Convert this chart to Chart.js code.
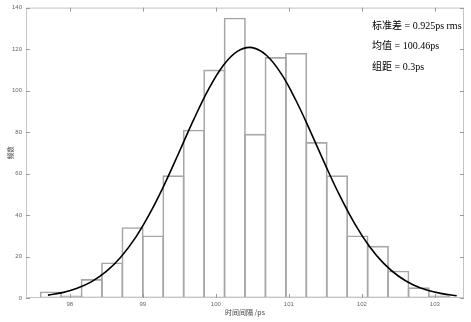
<!DOCTYPE html>
<html lang="zh-CN">
<head>
<meta charset="UTF-8">
<title>时间间隔直方图</title>
<script src="https://cdn.jsdelivr.net/npm/chart.js@4.4.1/dist/chart.umd.min.js"></script>
<style>
  html, body { margin: 0; padding: 0; background: #fff; }
  #wrap { width: 471px; height: 322px; }
</style>
</head>
<body>
<div id="wrap"><canvas id="chart" width="471" height="322"></canvas></div>
<script>
// bin centres (ps) and counts
var binWidth = 0.28;
var binCenters = [97.74, 98.02, 98.30, 98.58, 98.86, 99.14, 99.42, 99.70, 99.98, 100.26,
                  100.54, 100.82, 101.10, 101.38, 101.66, 101.94, 102.22, 102.50, 102.78, 103.06];
var counts = [3, 1, 9, 17, 34, 30, 59, 81, 110, 135, 79, 116, 118, 75, 59, 30, 25, 13, 5, 1];

// fitted curve, points
var curveX = [97.7, 97.9, 98.1, 98.3, 98.5, 98.7, 98.9, 99.1, 99.3, 99.5, 99.7, 99.9, 100.1, 100.3,
              100.5, 100.7, 100.9, 101.1, 101.3, 101.5, 101.7, 101.9, 102.1, 102.3, 102.5, 102.7,
              102.9, 103.1, 103.3];
var curveY = [1.4, 2.6, 4.7, 7.9, 12.8, 19.8, 29.1, 41.0, 55.0, 70.5, 86.2, 100.6, 112.0, 119.0,
              120.7, 116.8, 107.9, 95.1, 80.0, 64.2, 49.2, 36.0, 25.1, 16.7, 10.6, 6.4,
              3.7, 2.1, 1.1];

var xMin = 97.4, xMax = 103.4;
var xTicks = [98, 99, 100, 101, 102, 103];
var yTicks = [0, 20, 40, 60, 80, 100, 120, 140];

var notes = ['标准差 = 0.925ps rms', '均值 = 100.46ps', '组距 = 0.3ps'];

// plot area is 438px wide (471 - 26 left - 7 right); +1 so neighbour borders share a line
var barPx = binWidth * 438 / (xMax - xMin) + 1;

// MATLAB-like box with inward ticks plus the text box at top right
var boxPlugin = {
  id: 'box',
  afterDraw: function(chart) {
    var ctx = chart.ctx, a = chart.chartArea;
    var xs = chart.scales.x, ys = chart.scales.y;
    ctx.save();
    ctx.strokeStyle = '#c4c4c4';
    ctx.lineWidth = 1;
    ctx.strokeRect(a.left + 0.5, a.top + 0.5, a.right - a.left - 1, a.bottom - a.top - 1);
    ctx.strokeStyle = '#9a9a9a';
    ctx.beginPath();
    xTicks.forEach(function(v) {
      var px = Math.round(xs.getPixelForValue(v)) + 0.5;
      ctx.moveTo(px, a.bottom); ctx.lineTo(px, a.bottom - 4);
      ctx.moveTo(px, a.top); ctx.lineTo(px, a.top + 4);
    });
    yTicks.forEach(function(v) {
      var py = Math.round(ys.getPixelForValue(v)) + 0.5;
      ctx.moveTo(a.left, py); ctx.lineTo(a.left + 4, py);
      ctx.moveTo(a.right, py); ctx.lineTo(a.right - 4, py);
    });
    ctx.stroke();

    ctx.fillStyle = '#000';
    ctx.font = '10px "Liberation Serif", "Noto Sans CJK SC", serif';
    ctx.textBaseline = 'middle';
    ctx.textAlign = 'left';
    notes.forEach(function(t, i) {
      ctx.fillText(t, 372, 26 + i * 20.5);
    });
    ctx.restore();
  }
};

var ctx = document.getElementById('chart').getContext('2d');
var chart = new Chart(ctx, {
  type: 'bar',
  data: {
    datasets: [{
      type: 'line',
      label: '拟合',
      data: curveX.map(function(x, i) { return { x: x, y: curveY[i] }; }),
      borderColor: '#000',
      borderWidth: 1.6,
      pointRadius: 0,
      tension: 0.4,
      fill: false,
      order: 0
    }, {
      type: 'bar',
      label: '频数',
      data: binCenters.map(function(x, i) { return { x: x, y: counts[i] }; }),
      backgroundColor: 'rgba(255,255,255,0)',
      borderColor: '#a6a6a6',
      borderWidth: 1,
      borderSkipped: false,
      barThickness: barPx,
      grouped: false,
      order: 1
    }]
  },
  options: {
    responsive: false,
    animation: false,
    layout: { padding: { top: 7, right: 7, left: 0, bottom: 0 } },
    plugins: { legend: { display: false }, tooltip: { enabled: false } },
    scales: {
      x: {
        type: 'linear',
        offset: false,
        min: xMin,
        max: xMax,
        afterBuildTicks: function(s) { s.ticks = xTicks.map(function(v) { return { value: v }; }); },
        afterFit: function(s) { s.height = 24; },
        grid: { display: false, drawTicks: false, offset: false },
        border: { display: false },
        ticks: { color: '#666', font: { size: 6, family: 'Arial, "Liberation Sans"' }, padding: 3, maxRotation: 0 },
        title: {
          display: true,
          text: '时间间隔 /ps',
          color: '#444',
          font: { size: 7, family: '"Noto Sans CJK SC", Arial' },
          padding: { top: 0, bottom: 5 }
        }
      },
      y: {
        min: 0,
        max: 140,
        afterBuildTicks: function(s) { s.ticks = yTicks.map(function(v) { return { value: v }; }); },
        afterFit: function(s) { s.width = 26; },
        grid: { display: false, drawTicks: false },
        border: { display: false },
        ticks: { color: '#666', font: { size: 6, family: 'Arial, "Liberation Sans"' }, padding: 4 },
        title: {
          display: true,
          text: '频数',
          color: '#444',
          font: { size: 6.5, family: '"Noto Sans CJK SC", Arial' },
          padding: { top: 7, bottom: 0 }
        }
      }
    }
  },
  plugins: [boxPlugin]
});
</script>
</body>
</html>
